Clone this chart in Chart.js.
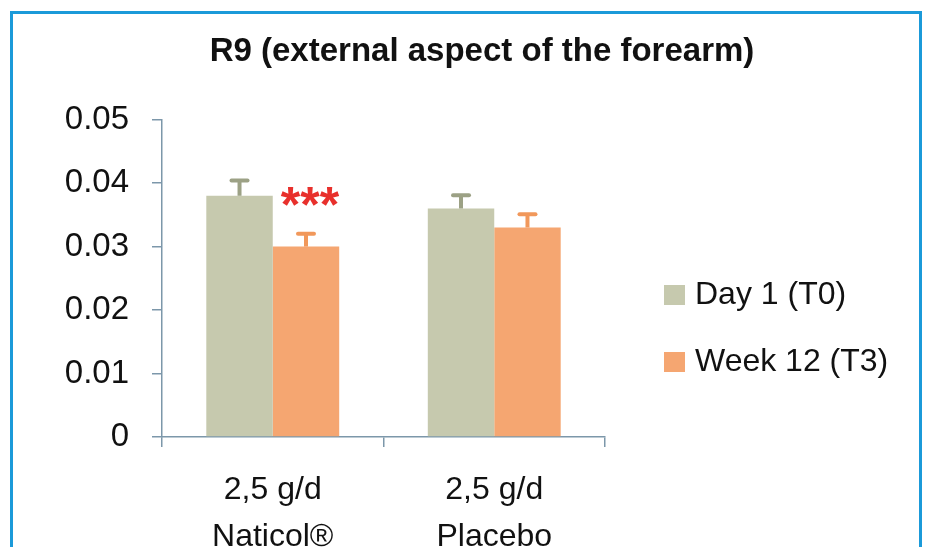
<!DOCTYPE html>
<html>
<head>
<meta charset="utf-8">
<script src="https://cdn.jsdelivr.net/npm/chart.js@4/dist/chart.umd.min.js"></script>
<style>
  html, body { margin: 0; padding: 0; background: #fff; }
  #wrap { position: relative; width: 925px; height: 547px; overflow: hidden; }
  #frame { position: absolute; left: 10px; top: 11px; width: 906px; height: 600px;
           border: 3px solid #1b9ad9; pointer-events: none; }
  canvas { position: absolute; left: 0; top: 0; }
</style>
</head>
<body>
<div id="wrap">
  <canvas id="c" width="925" height="547"></canvas>
  <div id="frame"></div>
</div>
<script>
const titleText = 'R9 (external aspect of the forearm)';
const categories = [['2,5 g/d', 'Naticol®'], ['2,5 g/d', 'Placebo']];
const seriesNames = ['Day 1 (T0)', 'Week 12 (T3)'];
const day1 = [0.038, 0.036];
const week12 = [0.030, 0.033];
const day1Err = [0.0024, 0.0021];
const week12Err = [0.0020, 0.0021];
const week12Sig = ['***', ''];
const yTickLabels = ['0', '0.01', '0.02', '0.03', '0.04', '0.05'];

const FONT = "'Liberation Sans', Arial, sans-serif";
const colDay1 = '#c6c9ae';
const colWeek12 = '#f5a671';
const errDay1 = '#9ca185';
const errWeek12 = '#f1985b';
const axisCol = '#7c97aa';

const errorBars = {
  id: 'errorBars',
  afterDatasetsDraw(chart) {
    const ctx = chart.ctx;
    const y = chart.scales.y;
    chart.data.datasets.forEach((ds, di) => {
      const meta = chart.getDatasetMeta(di);
      meta.data.forEach((bar, i) => {
        const top = y.getPixelForValue(ds.data[i] + ds.errors[i]);
        const base = y.getPixelForValue(ds.data[i]);
        ctx.save();
        ctx.strokeStyle = ds.errColor;
        ctx.lineWidth = 4;
        ctx.lineCap = 'butt';
        ctx.beginPath();
        ctx.moveTo(bar.x, base);
        ctx.lineTo(bar.x, top);
        ctx.stroke();
        ctx.lineWidth = 4;
        ctx.lineCap = 'round';
        ctx.beginPath();
        ctx.moveTo(bar.x - 8, top);
        ctx.lineTo(bar.x + 8, top);
        ctx.stroke();
        ctx.restore();
        if (ds.sig && ds.sig[i]) {
          ctx.save();
          ctx.fillStyle = '#e8302c';
          ctx.font = 'bold 50px ' + FONT;
          ctx.textAlign = 'center';
          ctx.textBaseline = 'middle';
          ctx.fillText(ds.sig[i], bar.x + 4, top - 26);
          ctx.restore();
        }
      });
    });
  }
};

const customLegend = {
  id: 'customLegend',
  afterDraw(chart) {
    const ctx = chart.ctx;
    const rows = [295, 362];
    chart.data.datasets.forEach((ds, di) => {
      const cy = rows[di];
      ctx.save();
      ctx.fillStyle = ds.backgroundColor;
      ctx.fillRect(664, cy - 10, 21, 20);
      ctx.fillStyle = '#111';
      ctx.font = '32px ' + FONT;
      ctx.textAlign = 'left';
      ctx.textBaseline = 'middle';
      ctx.fillText(ds.label, 695, cy);
      ctx.restore();
    });
  }
};

new Chart(document.getElementById('c'), {
  type: 'bar',
  data: {
    labels: categories,
    datasets: [
      { label: seriesNames[0], data: day1, errors: day1Err, backgroundColor: colDay1, errColor: errDay1 },
      { label: seriesNames[1], data: week12, errors: week12Err, sig: week12Sig, backgroundColor: colWeek12, errColor: errWeek12 }
    ]
  },
  options: {
    responsive: false,
    animation: false,
    devicePixelRatio: 1,
    layout: { padding: { left: 39, right: 0, top: 0, bottom: 0 } },
    datasets: { bar: { categoryPercentage: 0.6, barPercentage: 1.0 } },
    plugins: {
      legend: { display: false },
      tooltip: { enabled: false },
      title: {
        display: true,
        text: titleText,
        color: '#111',
        align: 'center',
        font: { family: FONT, size: 33, weight: 'bold' },
        padding: { top: 32, bottom: 48 }
      }
    },
    scales: {
      x: {
        grid: { display: true, drawOnChartArea: false, drawTicks: true, tickLength: 10, color: axisCol, lineWidth: 1.5, offset: true },
        border: { display: true, color: axisCol, width: 1.5 },
        ticks: { color: '#111', font: { family: FONT, size: 32, lineHeight: 1.47 }, padding: 20, maxRotation: 0, autoSkip: false },
        afterFit(scale) { scale.height = 110; }
      },
      y: {
        min: 0, max: 0.05,
        grid: { display: true, drawOnChartArea: false, drawTicks: true, tickLength: 10, color: axisCol, lineWidth: 1.5 },
        border: { display: true, color: axisCol, width: 1.5 },
        ticks: {
          stepSize: 0.01,
          color: '#111',
          font: { family: FONT, size: 33 },
          padding: 23,
          callback: (v, i) => yTickLabels[i]
        },
        afterFit(scale) { scale.width = 123; }
      },
      legendSpace: {
        type: 'linear',
        position: 'right',
        display: true,
        grid: { display: false },
        border: { display: false },
        ticks: { display: false },
        afterFit(scale) { scale.width = 320; }
      }
    }
  },
  plugins: [errorBars, customLegend]
});
</script>
</body>
</html>
